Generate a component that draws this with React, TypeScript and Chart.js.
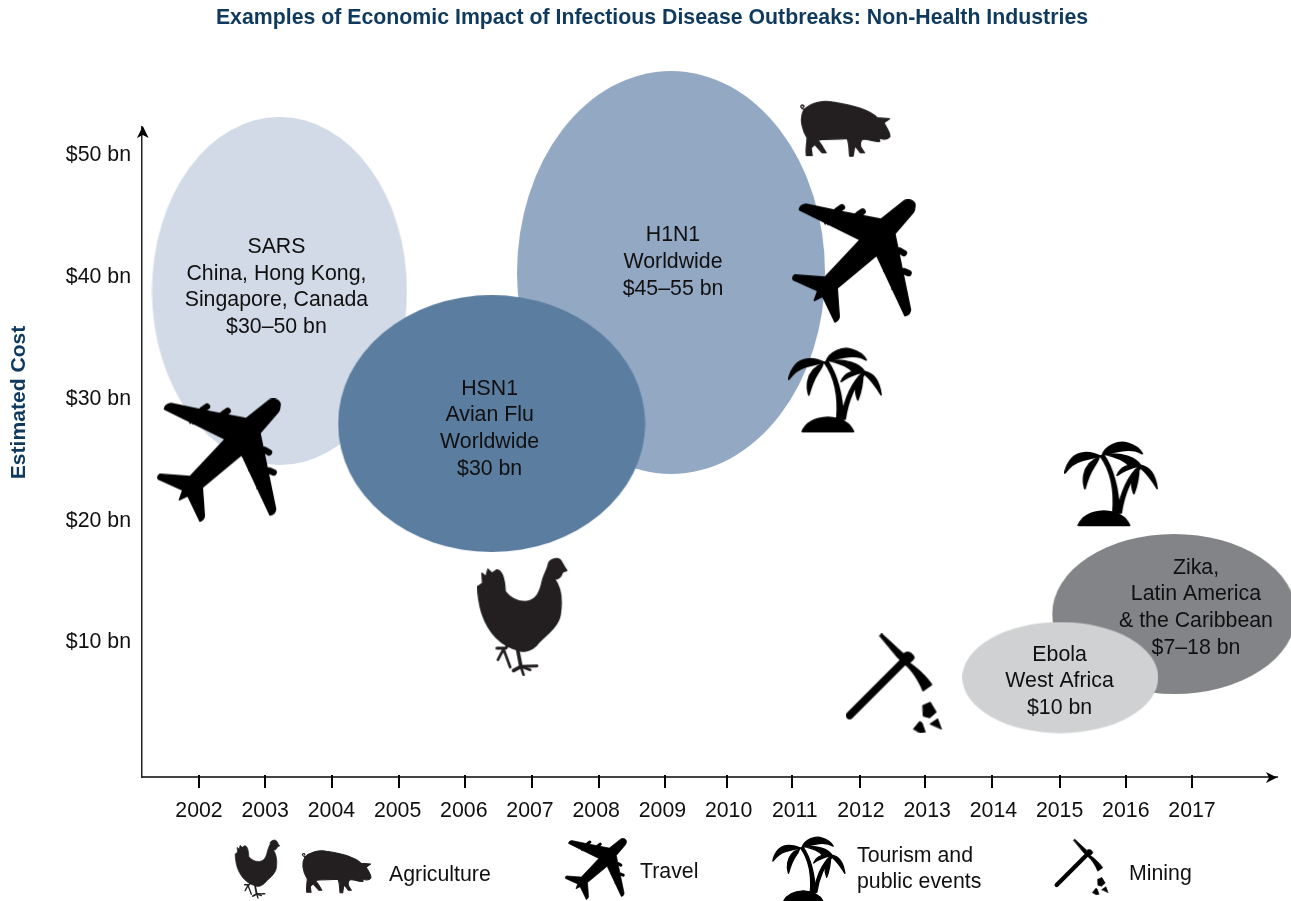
import React, { useEffect, useRef } from "react";
import { Chart, registerables } from "chart.js";

Chart.register(...registerables);

const titleText = "Examples of Economic Impact of Infectious Disease Outbreaks: Non-Health Industries";
const yAxisTitle = "Estimated Cost";
const years = [2002, 2003, 2004, 2005, 2006, 2007, 2008, 2009, 2010, 2011, 2012, 2013, 2014, 2015, 2016, 2017];
// The printed tick marks sit slightly off the evenly spaced year labels
const yearMarks = [2002, 2002.997, 2004.009, 2005.02, 2006.02, 2007.03, 2008.04, 2009.04, 2009.97, 2010.96, 2011.98, 2012.97, 2013.98, 2015.0, 2016.0, 2017.0];
const costTicks = [10, 20, 30, 40, 50];

// Outbreak ellipses (centre and half extents in axis units), in draw order
const outbreakX = [2003.216, 2009.13, 2006.42, 2016.73, 2015.01];
const outbreakY = [38.75, 40.27, 27.86, 12.22, 7.0];
const outbreakHalfYears = [1.926, 2.326, 2.319, 1.843, 1.48];
const outbreakHalfCost = [14.29, 16.55, 10.55, 6.57, 4.56];
const outbreakColors = ["#d1dae6", "#92a8c3", "#5a7da0", "#838487", "#d0d1d2"];
const outbreakLabels = [
  ["SARS", "China, Hong Kong,", "Singapore, Canada", "$30–50 bn"],
  ["H1N1", "Worldwide", "$45–55 bn"],
  ["HSN1", "Avian Flu", "Worldwide", "$30 bn"],
  ["Zika,", "Latin America", "& the Caribbean", "$7–18 bn"],
  ["Ebola", "West Africa", "$10 bn"],
];
const labelX = [2003.17, 2009.16, 2006.39, 2017.06, 2015.0];
const labelY = [39.06, 41.12, 27.42, 12.72, 6.68];

// Industry icons on the chart
const iconKinds = ["pig", "plane", "plane", "palm", "palm", "chicken", "pick"];
const iconX = [2011.76, 2011.9, 2002.31, 2011.61, 2015.78, 2006.89, 2012.5];
const iconY = [52.09, 41.2, 24.83, 30.6, 22.9, 12.0, 6.51];

type Icon = { box: number[]; color: string; fills: string[]; strokes: [string, number][]; grow?: number };

const ICONS: Record<string, Icon> = {
  plane: {
    box: [36, 328, 410, 699],
    color: "#000000",
    grow: 4,
    fills: [
      "M405,350 C408,335 390,325 372,333 L303,388 L185,365 L78,343 Q60,345 58,360 L240,450 L135,562 L45,555 Q35,562 40,570 L113,603 L103,632 L128,620 L165,697 Q178,690 178,680 L172,595 L290,497 L375,678 Q390,675 392,660 L345,432 L400,368 Q405,360 405,350 Z",
    ],
    strokes: [
      ["M172,362 L186,352", 19],
      ["M234,375 L248,365", 19],
      ["M358,482 L372,490", 19],
      ["M372,544 L386,550", 19],
      ["M134,396 L136,402", 5],
      ["M146,399 L144,405", 4],
      ["M188,418 L192,424", 5],
      ["M312,544 L318,548", 5],
      ["M336,598 L342,596", 5],
    ],
  },
  pig: {
    box: [56, 32, 332, 202],
    color: "#231f20",
    grow: 4,
    fills: [
      "M70,62 C90,42 125,32 155,38 C195,44 260,55 290,85 L327,88 L310,100 C318,115 330,130 328,142 C320,152 305,150 295,145 L298,155 C280,160 262,145 245,150 C238,158 238,165 242,175 L252,190 L240,190 L225,170 L222,175 L218,200 L208,200 C205,185 208,165 200,147 C175,150 150,148 125,150 L112,152 L125,170 L137,190 L125,190 L103,165 L92,175 L95,198 L78,198 C75,180 80,160 80,145 C68,125 55,90 70,62 Z",
    ],
    strokes: [["M72,60 C60,58 58,48 66,47 C72,47 72,53 68,54", 4]],
  },
  chicken: {
    box: [26, 22, 298, 378],
    color: "#231f20",
    grow: 4,
    fills: [
      "M240,40 C245,28 265,22 275,30 C282,38 285,50 295,62 L282,67 C278,80 270,88 258,88 C275,110 282,150 275,195 C268,235 225,260 205,285 C190,300 170,308 155,303 C100,290 60,250 40,190 C32,165 28,130 28,110 L42,100 L40,70 L52,80 L58,58 L70,70 L85,60 C100,62 108,80 110,125 C125,145 145,155 170,155 C205,152 215,125 222,90 C228,70 238,55 240,40 Z",
    ],
    strokes: [
      ["M147,298 L157,350 L135,362", 11],
      ["M157,350 L205,348", 9],
      ["M157,350 L185,360", 8],
      ["M157,350 L165,375", 8],
      ["M118,285 L112,295 L85,295", 9],
      ["M105,298 L88,330", 8],
      ["M105,298 L125,352", 8],
    ],
  },
  palm: {
    box: [26, 22, 308, 278],
    color: "#000000",
    grow: 5,
    fills: [
      "M68,275 Q85,235 145,232 Q205,235 222,275 Z",
      "M135,68 C165,110 178,170 172,238 L190,238 C192,170 170,100 145,65 Z",
      "M250,98 C215,130 195,180 185,238 L197,238 C205,185 225,135 258,100 Z",
      "M140,65 C150,35 190,20 215,28 C240,35 255,50 260,60 C240,48 215,48 195,52 C175,55 155,60 140,65 Z",
      "M135,68 C100,50 65,55 48,75 C35,90 30,105 28,118 C45,95 60,85 80,80 C100,75 120,70 135,68 Z",
      "M130,72 C105,80 90,100 85,125 C82,140 85,155 88,165 C95,140 105,115 115,100 C122,90 128,80 130,72 Z",
      "M255,95 C240,70 200,58 150,62 C185,70 205,78 220,95 C230,90 245,92 255,95 Z",
      "M255,95 C285,100 300,130 305,165 C290,140 275,120 255,102 Z",
      "M250,100 C250,130 245,155 235,180 C225,155 228,125 250,100 Z",
      "M250,95 C220,90 195,100 185,125 C205,110 230,102 250,97 Z",
    ],
    strokes: [],
  },
  pick: {
    box: [16, 24, 306, 324],
    color: "#000000",
    grow: 3,
    fills: [
      "M118,30 L125,25 L190,85 C200,75 215,80 222,95 C220,105 212,108 208,112 C235,130 265,160 275,178 L248,197 C235,165 215,135 195,118 L175,100 Z",
      "M248,240 L270,230 L288,260 L268,277 L250,272 Z",
      "M220,310 L238,288 L245,292 L255,320 L240,322 Z",
      "M270,295 L292,280 L303,310 Z",
    ],
    strokes: [["M28,270 L190,108", 23]],
  },
};

function paintIcon(c: CanvasRenderingContext2D, icon: Icon) {
  c.fillStyle = icon.color;
  c.strokeStyle = icon.color;
  c.lineCap = "round";
  c.lineJoin = "round";
  icon.fills.forEach((d) => {
    const p = new Path2D(d);
    c.fill(p);
    if (icon.grow) {
      c.lineWidth = icon.grow;
      c.stroke(p);
    }
  });
  icon.strokes.forEach(([d, w]) => {
    c.lineWidth = w;
    c.stroke(new Path2D(d));
  });
}

function iconCanvas(kind: string) {
  const icon = ICONS[kind];
  const [x0, y0, x1, y1] = icon.box;
  const cv = document.createElement("canvas");
  cv.width = Math.ceil((x1 - x0) / 3);
  cv.height = Math.ceil((y1 - y0) / 3);
  const c = cv.getContext("2d")!;
  c.scale(1 / 3, 1 / 3);
  c.translate(-x0, -y0);
  paintIcon(c, icon);
  return cv;
}

function ellipseCanvas(ctx: any) {
  if (ctx.type !== "data") return "circle";
  const { x: sx, y: sy } = ctx.chart.scales;
  const i = ctx.dataIndex;
  const rx = Math.abs(sx.getPixelForValue(outbreakX[i] + outbreakHalfYears[i]) - sx.getPixelForValue(outbreakX[i]));
  const ry = Math.abs(sy.getPixelForValue(outbreakY[i] + outbreakHalfCost[i]) - sy.getPixelForValue(outbreakY[i]));
  const cv = document.createElement("canvas");
  cv.width = Math.ceil(rx * 2);
  cv.height = Math.ceil(ry * 2);
  const c = cv.getContext("2d")!;
  c.fillStyle = outbreakColors[i];
  c.beginPath();
  c.ellipse(cv.width / 2, cv.height / 2, rx, ry, 0, 0, Math.PI * 2);
  c.fill();
  return cv;
}

const FONT = "'Liberation Sans', Arial, sans-serif";
const NAVY = "#0f3a5e";
const INK = "#111011";
const TEXT_PX = 21.3;
const LINE_PX = 26.7;

// Legend: groups of icon with a scale, and the text beside them (placed in page pixels)
const legendIcons: [string, number, number, number][] = [
  ["chicken", 257.5, 869, 0.5],
  ["pig", 336.5, 871.5, 0.77],
  ["plane", 596, 869, 0.5],
  ["palm", 809, 869.5, 0.78],
  ["pick", 1081.5, 867, 0.56],
];
const legendTexts: [string, number, number][] = [
  ["Agriculture", 389, 875],
  ["Travel", 640, 872],
  ["Tourism and", 857, 856],
  ["public events", 857, 882],
  ["Mining", 1129, 874],
];

const decorations = {
  id: "decorations",
  afterDatasetsDraw(chart: any) {
    const c: CanvasRenderingContext2D = chart.ctx;
    const { x: sx, y: sy } = chart.scales;
    const a = chart.chartArea;
    c.save();
    // tick marks on the year axis
    c.strokeStyle = "#000";
    c.lineWidth = 2;
    yearMarks.forEach((v) => {
      const px = Math.round(sx.getPixelForValue(v));
      c.beginPath();
      c.moveTo(px, a.bottom - 2);
      c.lineTo(px, a.bottom + 11);
      c.stroke();
    });
    // arrow heads
    c.fillStyle = "#000";
    c.beginPath();
    c.moveTo(a.left + 0.8, a.top - 1);
    c.lineTo(a.left - 5, a.top + 11);
    c.lineTo(a.left + 0.8, a.top + 8);
    c.lineTo(a.left + 6.6, a.top + 11);
    c.closePath();
    c.fill();
    const ay = a.bottom + 0.5;
    c.beginPath();
    c.moveTo(a.right, ay);
    c.lineTo(a.right - 11, ay - 5.5);
    c.lineTo(a.right - 8, ay);
    c.lineTo(a.right - 11, ay + 5.5);
    c.closePath();
    c.fill();

    // bubble text
    c.font = `${TEXT_PX}px ${FONT}`;
    c.fillStyle = INK;
    c.textAlign = "center";
    c.textBaseline = "middle";
    outbreakLabels.forEach((lines, i) => {
      const px = sx.getPixelForValue(labelX[i]);
      const py = sy.getPixelForValue(labelY[i]);
      lines.forEach((t, k) => c.fillText(t, px, py + (k - (lines.length - 1) / 2) * LINE_PX));
    });

    // y axis title
    c.save();
    c.translate(19.5, 402.5);
    c.rotate(-Math.PI / 2);
    c.font = `bold 21.1px ${FONT}`;
    c.fillStyle = NAVY;
    c.fillText(yAxisTitle, 0, 0);
    c.restore();

    // legend
    legendIcons.forEach(([kind, cx, cy, k]) => {
      const icon = ICONS[kind];
      const [x0, y0, x1, y1] = icon.box;
      c.save();
      c.translate(cx, cy);
      c.scale(k / 3, k / 3);
      c.translate(-(x0 + x1) / 2, -(y0 + y1) / 2);
      paintIcon(c, icon);
      c.restore();
    });
    c.font = `${TEXT_PX}px ${FONT}`;
    c.fillStyle = INK;
    c.textAlign = "left";
    legendTexts.forEach(([t, x, y]) => c.fillText(t, x, y));
    c.restore();
  },
};

export default function App() {
  const ref = useRef<HTMLCanvasElement>(null);
  useEffect(() => {
    const chart = new Chart(ref.current!, {
      type: "scatter",
      data: {
        datasets: [
          {
            label: "Industries affected",
            data: iconKinds.map((_, i) => ({ x: iconX[i], y: iconY[i] })),
            pointStyle: iconKinds.map(iconCanvas) as any,
            pointRadius: 1,
            clip: false as any,
          },
          {
            label: "Outbreaks",
            data: outbreakX.map((x, i) => ({ x, y: outbreakY[i] })),
            pointStyle: ellipseCanvas as any,
            pointRadius: 1,
            clip: false as any,
          },
        ],
      },
      plugins: [decorations],
      options: {
        responsive: false,
        animation: false,
        events: [],
        layout: { padding: { left: 27, right: 14, top: 0, bottom: 0 } },
        plugins: {
          legend: { display: false },
          tooltip: { enabled: false },
          title: {
            display: true,
            text: titleText,
            color: NAVY,
            font: { family: FONT, size: 21.3, weight: "bold", lineHeight: 1 },
            padding: { top: 7.35, bottom: 98.35 },
          },
        },
        scales: {
          x: {
            type: "linear",
            min: 2001.139,
            max: 2018.284,
            afterBuildTicks: (s: any) => {
              s.ticks = years.map((value) => ({ value }));
            },
            afterFit: (s: any) => {
              s.height = 124;
            },
            border: { display: true, color: "#444", width: 2 },
            grid: { drawOnChartArea: false, drawTicks: true, tickLength: 10, tickWidth: 2, tickColor: "rgba(0,0,0,0)" },
            ticks: {
              autoSkip: false,
              maxRotation: 0,
              padding: 11,
              color: INK,
              font: { family: FONT, size: TEXT_PX },
              callback: (v: any) => String(v),
            },
          },
          y: {
            type: "linear",
            min: -1.17,
            max: 52.22,
            afterBuildTicks: (s: any) => {
              s.ticks = costTicks.map((value) => ({ value }));
            },
            afterFit: (s: any) => {
              s.width = 115;
            },
            border: { display: true, color: "#222", width: 1.5 },
            grid: { drawOnChartArea: false, drawTicks: false },
            ticks: {
              padding: 11,
              labelOffset: 1.5,
              color: INK,
              font: { family: FONT, size: TEXT_PX },
              callback: (v: any) => `$${v} bn`,
            },
          },
        },
      } as any,
    });
    return () => chart.destroy();
  }, []);
  return (
    <div style={{ position: "absolute", left: 0, top: 0, width: 1291, height: 901, background: "#fff", overflow: "hidden" }}>
      <canvas ref={ref} width={1291} height={901} style={{ display: "block" }} />
    </div>
  );
}
